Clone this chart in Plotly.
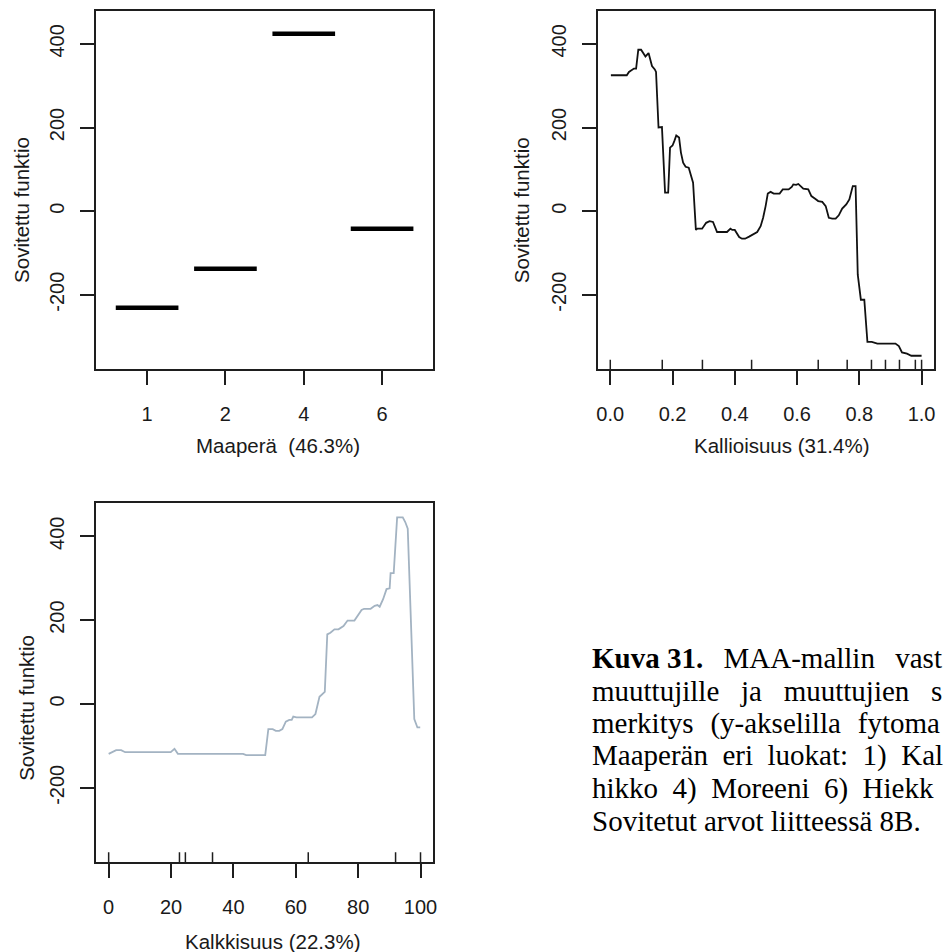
import plotly.graph_objects as go

# ---------------- data ----------------
maapera_cats = ["1", "2", "4", "6"]
maapera_vals = [-231, -138, 424, -42]

kallio_x = [0.002, 0.053, 0.060, 0.068, 0.076, 0.083, 0.090, 0.099, 0.106, 0.113,
            0.123, 0.127, 0.134, 0.143, 0.147, 0.155, 0.160, 0.166, 0.176, 0.186,
            0.192, 0.200, 0.206, 0.212, 0.221, 0.227, 0.234, 0.242, 0.252, 0.259,
            0.266, 0.275, 0.280, 0.295, 0.308, 0.319, 0.330, 0.343, 0.354, 0.375,
            0.386, 0.392, 0.400, 0.414, 0.423, 0.433, 0.446, 0.460, 0.472, 0.483,
            0.491, 0.499, 0.506, 0.515, 0.525, 0.544, 0.554, 0.573, 0.583, 0.588,
            0.597, 0.604, 0.612, 0.620, 0.636, 0.646, 0.657, 0.668, 0.681, 0.692,
            0.702, 0.713, 0.724, 0.734, 0.745, 0.758, 0.768, 0.779, 0.788, 0.795,
            0.805, 0.816, 0.826, 0.840, 0.858, 0.916, 0.927, 0.937, 0.953, 0.967,
            1.000]
kallio_y = [325, 325, 333, 338, 341, 341, 386, 386, 379, 370,
            378, 367, 347, 339, 333, 200, 201, 201, 44, 44,
            152, 157, 168, 181, 176, 140, 116, 106, 104, 88,
            68, -45, -42, -42, -28, -24, -26, -50, -50, -50,
            -42, -45, -45, -62, -66, -66, -61, -56, -50, -36,
            -16, 12, 42, 46, 42, 42, 52, 52, 58, 64,
            63, 65, 60, 54, 52, 36, 30, 24, 22, 12,
            -16, -18, -18, -10, 6, 16, 28, 60, 60, -152,
            -212, -212, -313, -313, -317, -317, -323, -338, -341, -346,
            -346]
kallio_rug = [0.0, 0.167, 0.296, 0.454, 0.668, 0.761, 0.839, 0.884, 0.929, 0.980, 1.0]

kalkki_x = [0.0, 1.4, 2.4, 4.0, 5.3, 6.1, 19.9, 21.1, 22.2, 23.0,
            43.1, 44.1, 50.2, 51.2, 52.6, 53.6, 54.7, 55.7, 56.8, 57.9,
            58.7, 59.2, 60.2, 65.2, 66.3, 67.6, 69.3, 70.1, 71.1, 72.4,
            73.7, 75.3, 76.6, 78.8, 79.8, 81.1, 81.9, 84.0, 85.3, 86.2,
            86.9, 88.0, 89.1, 90.1, 90.4, 91.4, 92.5, 94.3, 95.1, 95.9,
            98.0, 99.0, 99.9]
kalkki_y = [-119, -114, -110, -110, -115, -115, -115, -107, -119, -119,
            -119, -122, -122, -60, -60, -64, -64, -60, -42, -38,
            -38, -30, -32, -32, -24, 17, 29, 166, 170, 178,
            178, 186, 199, 199, 210, 224, 227, 227, 234, 236,
            232, 250, 274, 276, 312, 312, 445, 445, 434, 418,
            -36, -56, -56]
kalkki_rug = [0.0, 22.7, 24.6, 33.3, 64.0, 92.0, 100.0]

y_tickvals = [-200, 0, 200, 400]
y_ticktext = ["-200", "0", "200", "400"]
kallio_tickvals = [0.0, 0.2, 0.4, 0.6, 0.8, 1.0]
kallio_ticktext = ["0.0", "0.2", "0.4", "0.6", "0.8", "1.0"]
kalkki_tickvals = [0, 20, 40, 60, 80, 100]
kalkki_ticktext = ["0", "20", "40", "60", "80", "100"]

y_title = "Sovitettu funktio"
x_titles = ["Maaperä  (46.3%)", "Kallioisuus (31.4%)", "Kalkkisuus (22.3%)"]

NB = "\u00a0"
G1 = NB * 2 + "\u2009"
G2 = NB * 3
G3 = NB * 2 + "\u200a"
G4 = NB * 2
G5 = NB * 2
caption_lines = [
    "<b>Kuva 31.</b>" + G1 + "MAA-mallin" + G1 + "vast",
    "muuttujille" + G2 + "ja" + G2 + "muuttujien" + G2 + "s",
    "merkitys" + G3 + "(y-akselilla" + G3 + "fytoma",
    "Maaperän" + G4 + "eri" + G4 + "luokat:" + G4 + "1)" + G4 + "Kal",
    "hikko" + G5 + "4)" + G5 + "Moreeni" + G5 + "6)" + G5 + "Hiekk",
    "Sovitetut arvot liitteessä 8B.",
]

# ---------------- figure ----------------
W, H = 944, 952
YR = [-377.7, 478.7]
SANS = "Liberation Sans, Arial, sans-serif"
SERIF = "Liberation Serif, Times New Roman, serif"
AX = "#1e1e1e"
TXT = "#1a1a1a"

fig = go.Figure()

# Maaperä segments
seg_x, seg_y = [], []
for i, v in enumerate(maapera_vals):
    pos = i + 1
    seg_x += [pos - 0.4, pos + 0.4, None]
    seg_y += [v, v, None]
fig.add_trace(go.Scatter(x=seg_x, y=seg_y, mode="lines", xaxis="x", yaxis="y",
                         line=dict(color="black", width=4.5), hoverinfo="skip"))

# Kallioisuus
fig.add_trace(go.Scatter(x=kallio_x, y=kallio_y, mode="lines", xaxis="x2", yaxis="y2",
                         line=dict(color="#111111", width=1.8)))
rx, ry = [], []
for r in kallio_rug:
    rx += [r, r, None]
    ry += [0, 0.026, None]
fig.add_trace(go.Scatter(x=rx, y=ry, mode="lines", xaxis="x2", yaxis="y4",
                         line=dict(color=AX, width=1.5), hoverinfo="skip"))

# Kalkkisuus
fig.add_trace(go.Scatter(x=kalkki_x, y=kalkki_y, mode="lines", xaxis="x3", yaxis="y3",
                         line=dict(color="#a3b3c2", width=1.8)))
rx, ry = [], []
for r in kalkki_rug:
    rx += [r, r, None]
    ry += [0, 0.028, None]
fig.add_trace(go.Scatter(x=rx, y=ry, mode="lines", xaxis="x3", yaxis="y5",
                         line=dict(color=AX, width=1.5), hoverinfo="skip"))

common = dict(showline=True, mirror=True, linecolor=AX, linewidth=1.5,
              ticks="outside", ticklen=14, tickwidth=1.5, tickcolor=AX,
              showgrid=False, zeroline=False, fixedrange=True,
              tickfont=dict(family=SANS, size=20, color=TXT))

dom_xl = [95.7 / W, 434.3 / W]
dom_xr = [600 / W, 938 / W]
dom_yt = [1 - 369 / H, 1 - 11 / H]
dom_yb = [1 - 862.3 / H, 1 - 503.3 / H]

fig.update_layout(
    width=W, height=H, margin=dict(l=0, r=0, t=0, b=0),
    paper_bgcolor="white", plot_bgcolor="white", showlegend=False,
    xaxis=dict(domain=dom_xl, anchor="y", range=[0.35, 4.65],
               tickvals=list(range(1, len(maapera_cats) + 1)), ticktext=maapera_cats,
               ticklabelstandoff=12, **common),
    yaxis=dict(domain=dom_yt, anchor="x", range=YR, tickvals=y_tickvals, ticktext=y_ticktext,
               tickangle=-90, ticklabelstandoff=8, **common),
    xaxis2=dict(domain=dom_xr, anchor="y2", range=[-0.04, 1.04],
                tickvals=kallio_tickvals, ticktext=kallio_ticktext, ticklabelstandoff=12, **common),
    yaxis2=dict(domain=dom_yt, anchor="x2", range=YR, tickvals=y_tickvals, ticktext=y_ticktext,
                tickangle=-90, ticklabelstandoff=8, **common),
    xaxis3=dict(domain=dom_xl, anchor="y3", range=[-4, 104],
                tickvals=kalkki_tickvals, ticktext=kalkki_ticktext, ticklabelstandoff=12, **common),
    yaxis3=dict(domain=dom_yb, anchor="x3", range=YR, tickvals=y_tickvals, ticktext=y_ticktext,
                tickangle=-90, ticklabelstandoff=8, **common),
    yaxis4=dict(overlaying="y2", anchor="x2", range=[0, 1], visible=False, fixedrange=True),
    yaxis5=dict(overlaying="y3", anchor="x3", range=[0, 1], visible=False, fixedrange=True),
)

ann = []
# y titles
for xp, yp in [(20, 210), (523, 210), (25, 708)]:
    ann.append(dict(text=y_title, x=xp / W, y=1 - yp / H, xref="paper", yref="paper",
                    textangle=-90, showarrow=False, xanchor="center", yanchor="middle",
                    font=dict(family=SANS, size=20.5, color=TXT)))
# x titles
for t, xp, yp in zip(x_titles, [278, 785, 273], [445, 445, 941]):
    ann.append(dict(text=t, x=xp / W, y=1 - yp / H, xref="paper", yref="paper",
                    showarrow=False, xanchor="center", yanchor="middle",
                    font=dict(family=SANS, size=20.5, color=TXT)))
# caption
for i, line in enumerate(caption_lines):
    yc = 658 + i * 32.6
    ann.append(dict(text=line, x=592 / W, y=1 - yc / H, xref="paper", yref="paper",
                    showarrow=False, xanchor="left", yanchor="middle", align="left",
                    font=dict(family=SERIF, size=29, color="black")))
fig.update_layout(annotations=ann)

fig.write_html("out.html")
